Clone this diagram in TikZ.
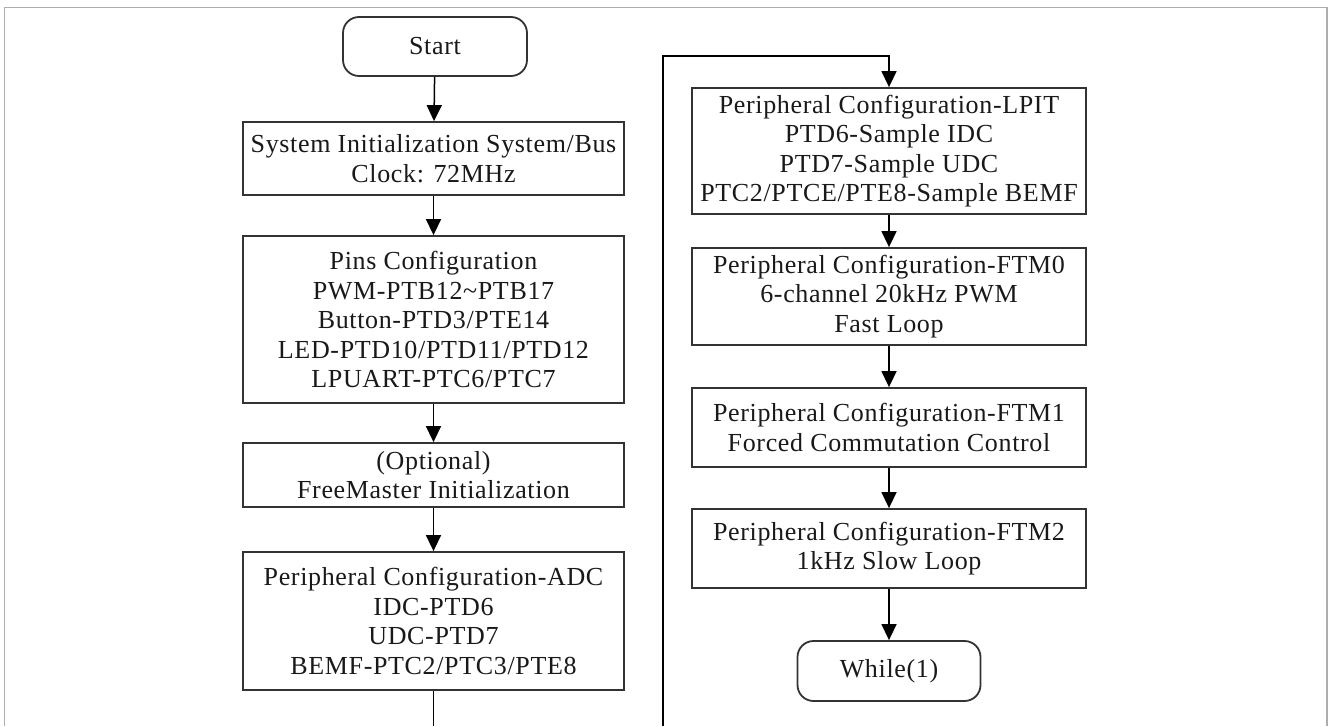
\documentclass[tikz,border=0pt]{standalone}
\usepackage{fontspec}
\setmainfont{Liberation Serif}[LetterSpace=2.5]
\usetikzlibrary{arrows.meta}
\tikzset{
  box/.style={draw=black!80, line width=1.8pt, align=center, inner sep=0pt, fill=white,
    font=\fontsize{26}{29.5}\selectfont, text=black!90},
  term/.style={box, rounded corners=16pt},
  arr/.style={line width=1.5pt, draw=black, -{Triangle[length=16pt,width=15pt]}},
  ln/.style={line width=1.5pt, draw=black},
  framestyle/.style={draw=black!32, line width=1.6pt}
}
\begin{document}
\begin{tikzpicture}[x=1pt,y=-1pt]
\useasboundingbox (0,0) rectangle (1328,726);
\draw[framestyle] (4.5,726) -- (4.5,7.5) -- (1327,7.5) -- (1327,726);
% left column
\node[term, minimum width=184pt, minimum height=59pt] (start) at (435,46.5) {Start};
\node[box, minimum width=381pt, minimum height=73pt] (sys) at (433.5,158.5)
  {System Initialization System/Bus\\Clock: 72MHz};
\node[box, minimum width=381pt, minimum height=167pt] (pins) at (433.5,319.5)
  {Pins Configuration\\PWM-PTB12\textasciitilde PTB17\\Button-PTD3/PTE14\\LED-PTD10/PTD11/PTD12\\LPUART-PTC6/PTC7};
\node[box, minimum width=381pt, minimum height=64pt] (opt) at (433.5,475)
  {(Optional)\\FreeMaster Initialization};
\node[box, minimum width=381pt, minimum height=138pt] (adc) at (433.5,621)
  {Peripheral Configuration-ADC\\IDC-PTD6\\UDC-PTD7\\BEMF-PTC2/PTC3/PTE8};
% right column
\node[box, minimum width=394pt, minimum height=126pt] (lpit) at (889,151)
  {Peripheral Configuration-LPIT\\PTD6-Sample IDC\\PTD7-Sample UDC\\PTC2/PTCE/PTE8-Sample BEMF};
\node[box, minimum width=394pt, minimum height=97pt] (ftm0) at (889,296.5)
  {Peripheral Configuration-FTM0\\6-channel 20kHz PWM\\Fast Loop};
\node[box, minimum width=394pt, minimum height=79pt] (ftm1) at (889,427.5)
  {Peripheral Configuration-FTM1\\Forced Commutation Control};
\node[box, minimum width=394pt, minimum height=79pt] (ftm2) at (889,548.5)
  {Peripheral Configuration-FTM2\\1kHz Slow Loop};
\node[term, minimum width=183pt, minimum height=60pt] (while) at (889,671) {While(1)};
% connectors
\coordinate (adcout) at (433.5,726);
\coordinate (loopin) at (663,726);
\coordinate (looptl) at (663,56);
\coordinate (looptr) at (889,56);
\draw[arr] (start) -- (sys);
\draw[arr] (sys) -- (pins);
\draw[arr] (pins) -- (opt);
\draw[arr] (opt) -- (adc);
\draw[ln] (adc.south) -- (adcout);
\draw[arr] (loopin) -- (looptl) -- (looptr) -- (lpit.north);
\draw[arr] (lpit) -- (ftm0);
\draw[arr] (ftm0) -- (ftm1);
\draw[arr] (ftm1) -- (ftm2);
\draw[arr] (ftm2) -- (while);
\end{tikzpicture}
\end{document}
